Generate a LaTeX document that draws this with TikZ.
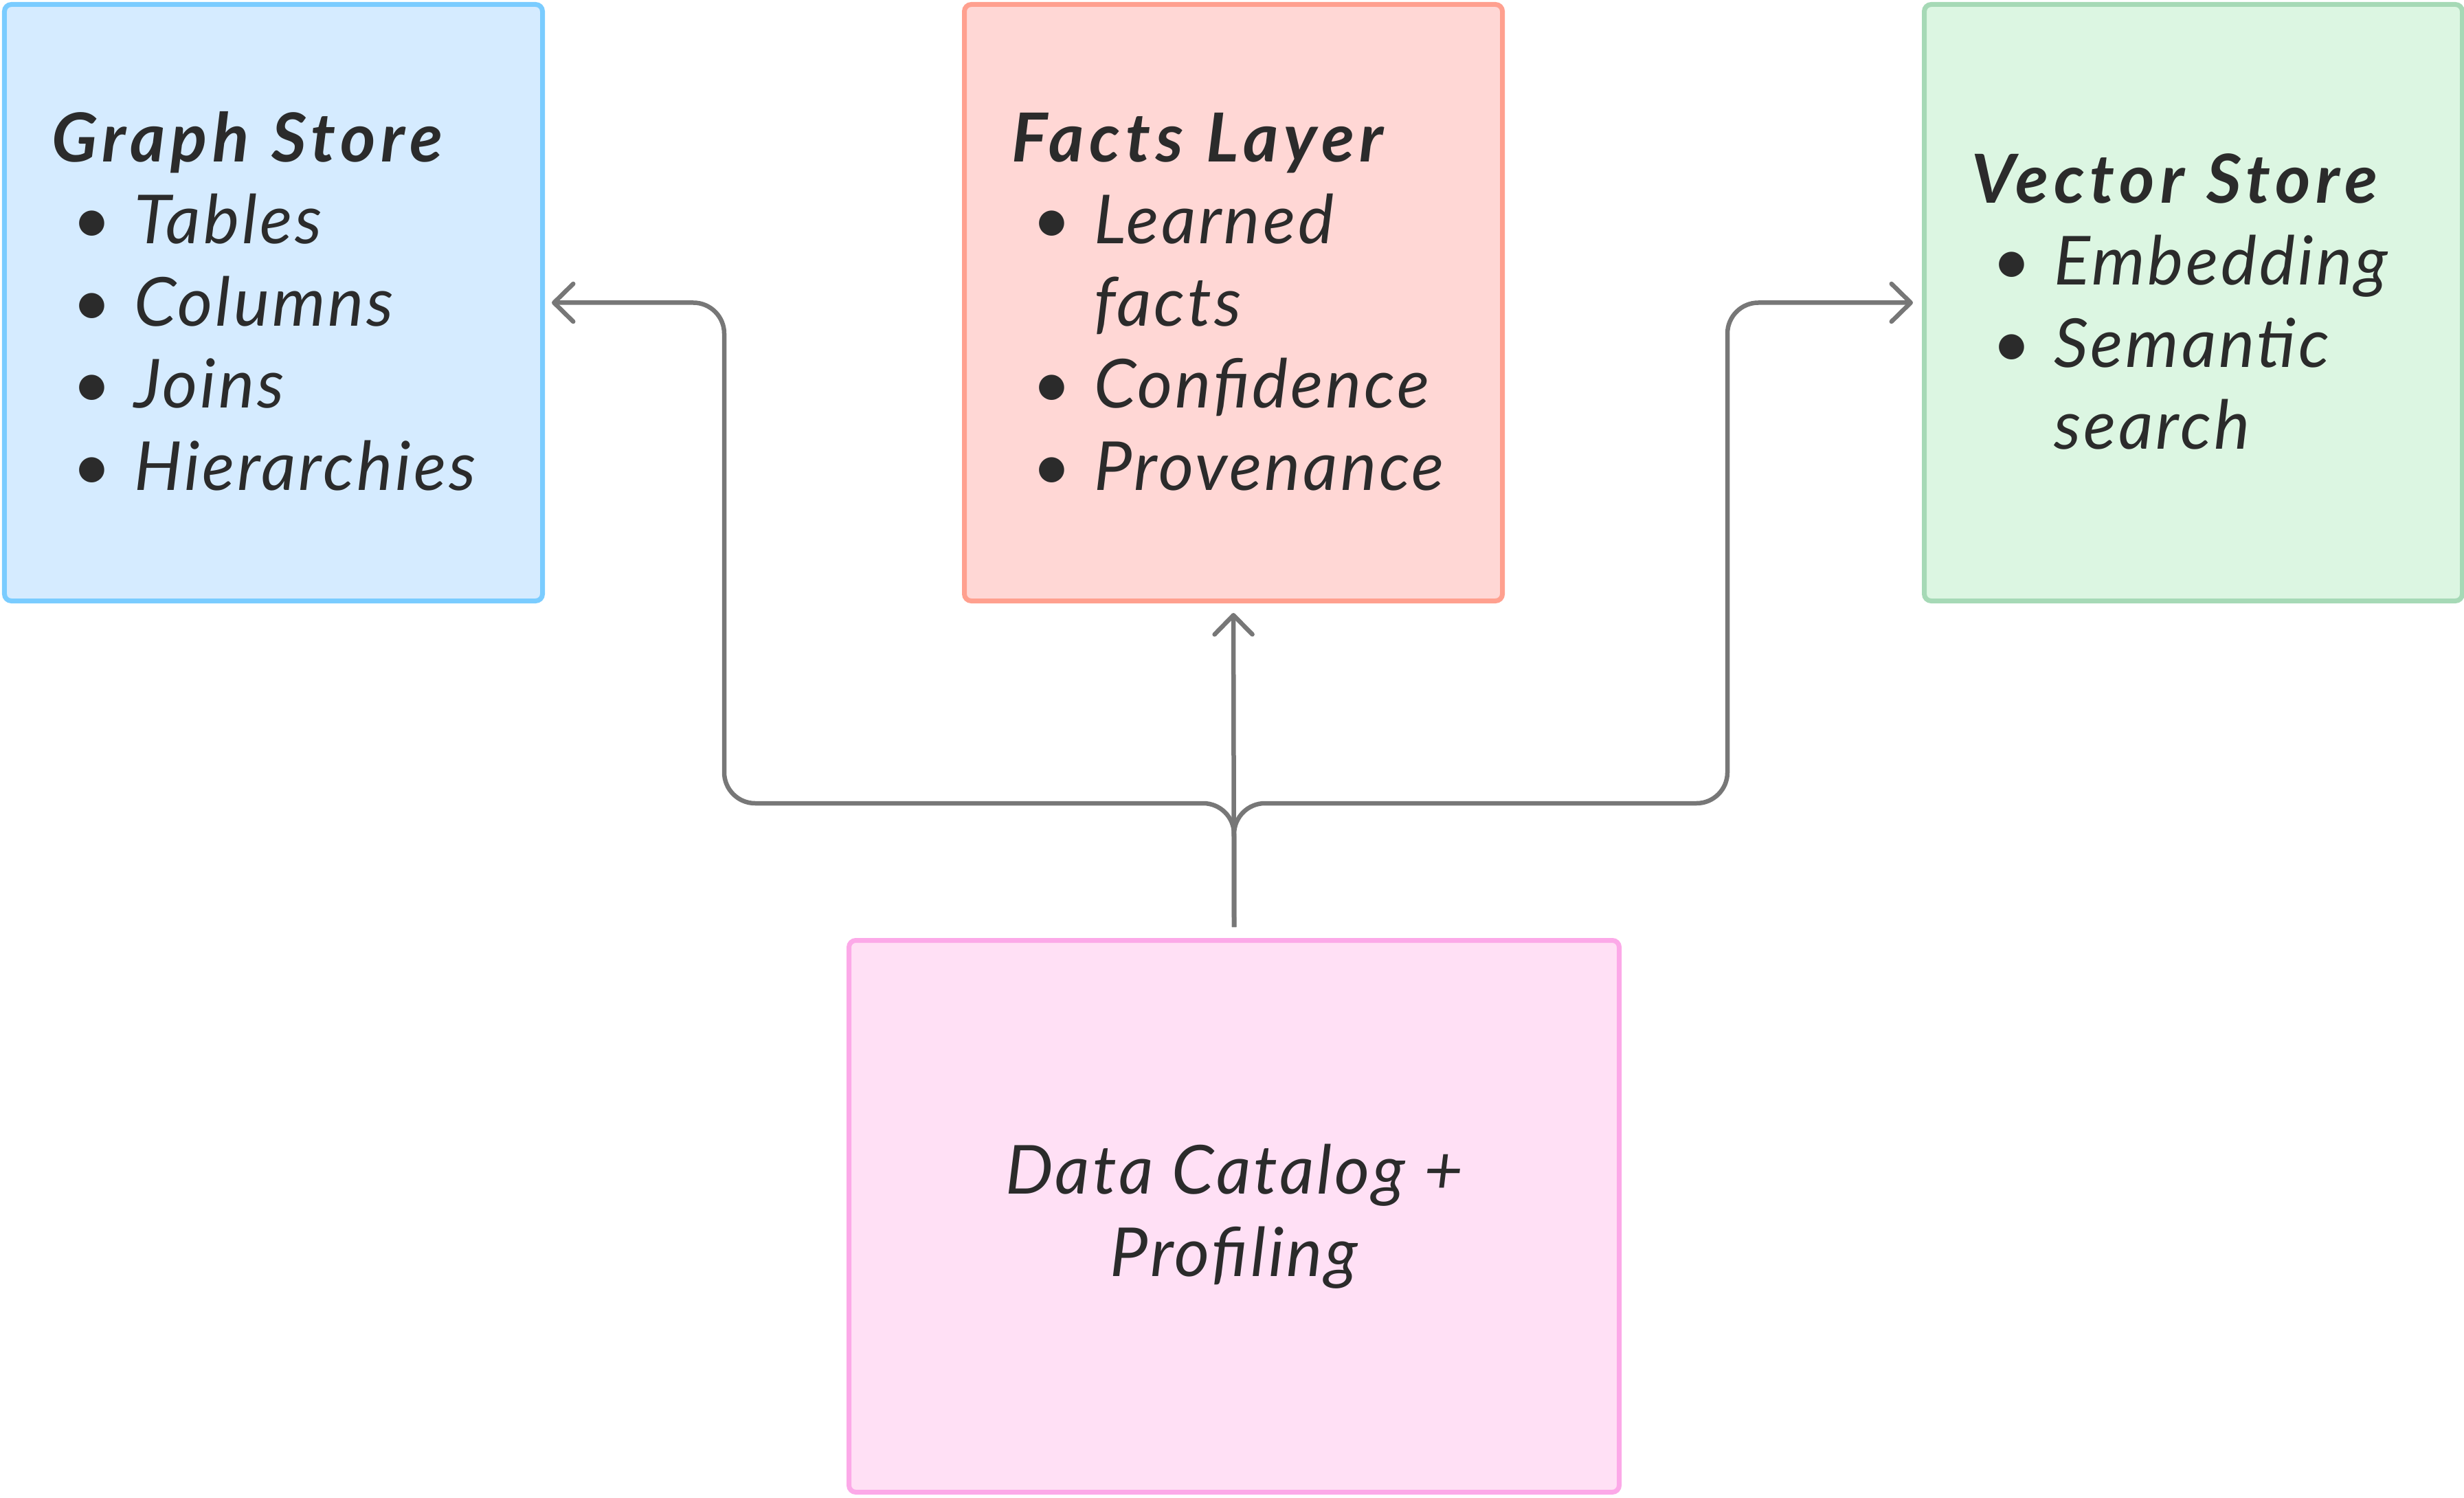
\documentclass[tikz,border=0pt]{standalone}
\usepackage{fontspec}
\setmainfont{Lato}[LetterSpace=4]
\usepackage{tikz}
\usetikzlibrary{positioning,calc,arrows.meta}
\definecolor{inkgray}{HTML}{2B2B2B}
\definecolor{linkgray}{HTML}{777777}
\definecolor{graphfill}{HTML}{D5EBFF}
\definecolor{graphline}{HTML}{7ACCFF}
\definecolor{factsfill}{HTML}{FFD7D5}
\definecolor{factsline}{HTML}{FFA08F}
\definecolor{vectorfill}{HTML}{DCF6E2}
\definecolor{vectorline}{HTML}{A6D9B6}
\definecolor{catalogfill}{HTML}{FFE0F5}
\definecolor{catalogline}{HTML}{FCA9E8}
\newcommand{\boxtitle}[1]{\multicolumn{2}{@{}l@{}}{\bfseries\addfontfeatures{LetterSpace=8}#1}}
\tikzstyle{box}=[draw, rectangle, rounded corners=1mm, line width=0.7mm, text=inkgray, font=\itshape\fontsize{28}{34}\selectfont]
\tikzstyle{store_box}=[box, minimum width=7.83cm, minimum height=8.68cm, text width=6.46cm, align=left]
\tikzstyle{link}=[draw=linkgray, line width=0.65mm, rounded corners=4.5mm, -{Straight Barb[length=2.8mm,width=5.5mm,round]}]

\begin{document}
\begin{tikzpicture}
        \useasboundingbox (0,0) rectangle (35.86,-21.80);
        \node [box, fill=catalogfill, draw=catalogline, minimum width=11.21cm, minimum height=8.03cm, align=center] (0) at (17.96,-17.70) {Data Catalog +\\Profiling};
        \node [store_box, fill=graphfill, draw=graphline] (1) at (3.98,-4.405) {\begin{tabular}{@{\hspace{3.0mm}}c@{\hspace{3.3mm}}l@{}}
            \noalign{\vskip 2mm}
            \boxtitle{Graph Store}\\
            \textbullet & Tables\\
            \textbullet & Columns\\
            \textbullet & Joins\\
            \textbullet & Hierarchies
        \end{tabular}};
        \node [store_box, fill=factsfill, draw=factsline, right=6.07cm of 1] (2) {\begin{tabular}{@{\hspace{3.0mm}}c@{\hspace{3.3mm}}l@{}}
            \noalign{\vskip 2mm}
            \boxtitle{Facts Layer}\\
            \textbullet & Learned\\
                        & facts\\
            \textbullet & Confidence\\
            \textbullet & Provenance
        \end{tabular}};
        \node [store_box, fill=vectorfill, draw=vectorline, right=6.07cm of 2] (3) {\begin{tabular}{@{\hspace{3.0mm}}c@{\hspace{3.3mm}}l@{}}
            \noalign{\vskip 2mm}
            \boxtitle{Vector Store}\\
            \textbullet & Embedding\\
            \textbullet & Semantic\\
                        & search
        \end{tabular}};
        \coordinate (split) at ($(0.north)+(0,1.96)$);
        \coordinate (lbend) at ($(1.east)+(2.61,0)$);
        \coordinate (rbend) at ($(3.west)+(-2.83,0)$);
        \draw[link, shorten >=1.4mm] ([yshift=1.6mm]0.north) -- (2.south);
        \draw[link, shorten >=1.0mm] ([yshift=1.6mm]0.north) -- (split) -| (lbend) -- (1.east);
        \draw[link, shorten >=1.3mm] ([yshift=1.6mm]0.north) -- (split) -| (rbend) -- (3.west);
    \end{tikzpicture}
\end{document}
